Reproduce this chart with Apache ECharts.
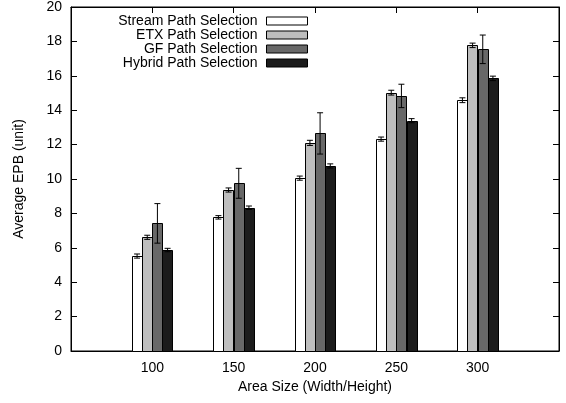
<!DOCTYPE html>
<html>
<head>
<meta charset="utf-8">
<script src="https://cdn.jsdelivr.net/npm/echarts@6/dist/echarts.min.js"></script>
<style>
  html, body { margin: 0; padding: 0; background: #fff; }
  #chart { width: 566px; height: 403px; }
</style>
</head>
<body>
<div id="chart"></div>
<script>
// Area sizes on the x axis
const categories = ['100', '150', '200', '250', '300'];
const seriesNames = ['Stream Path Selection', 'ETX Path Selection', 'GF Path Selection', 'Hybrid Path Selection'];

// Average EPB per method, with the half-length of each error bar
const streamEPB = [5.52, 7.77, 10.05, 12.32, 14.58];
const streamErr = [0.12, 0.10, 0.12, 0.12, 0.14];
const etxEPB    = [6.61, 9.36, 12.10, 15.02, 17.77];
const etxErr    = [0.12, 0.12, 0.15, 0.14, 0.13];
const gfEPB     = [7.42, 9.75, 12.65, 14.83, 17.54];
const gfErr     = [1.15, 0.87, 1.20, 0.68, 0.83];
const hybridEPB = [5.87, 8.33, 10.76, 13.39, 15.85];
const hybridErr = [0.10, 0.10, 0.12, 0.12, 0.13];

const yTicks = [0, 2, 4, 6, 8, 10, 12, 14, 16, 18, 20];

const values = [streamEPB, etxEPB, gfEPB, hybridEPB];
const errors = [streamErr, etxErr, gfErr, hybridErr];
const fills = ['#ffffff', '#bebebe', '#686868', '#1c1c1c'];

const BAR_W = 0.125;       // bar width in category units
const FONT = 'Liberation Sans, Arial, Helvetica, sans-serif';
const FS = 14;

const chart = echarts.init(document.getElementById('chart'), null, { renderer: 'canvas' });

function makeSeries(k) {
  const data = values[k].map((v, i) => [i, v, errors[k][i]]);
  return {
    name: seriesNames[k],
    type: 'custom',
    itemStyle: { color: fills[k], borderColor: '#000', borderWidth: 1 },
    encode: { x: 0, y: 1 },
    data: data,
    renderItem: function (params, api) {
      const c = api.value(0);
      const v = api.value(1);
      const e = api.value(2);
      const center = c + (k - 1.5) * BAR_W;
      const tl = api.coord([center - BAR_W / 2, v]);
      const br = api.coord([center + BAR_W / 2, 0]);
      const top = api.coord([center, v + e]);
      const bot = api.coord([center, v - e]);
      const cap = 3;
      const lineStyle = { stroke: '#000', lineWidth: 1 };
      return {
        type: 'group',
        children: [
          {
            type: 'rect',
            shape: { x: Math.round(tl[0]) + 0.5, y: Math.round(tl[1]) + 0.5,
                     width: Math.round(br[0] - tl[0]), height: Math.round(br[1] - tl[1]) },
            style: { fill: fills[k], stroke: '#000', lineWidth: 1 }
          },
          { type: 'line', shape: { x1: top[0], y1: top[1], x2: bot[0], y2: bot[1] }, style: lineStyle },
          { type: 'line', shape: { x1: top[0] - cap, y1: top[1], x2: top[0] + cap, y2: top[1] }, style: lineStyle },
          { type: 'line', shape: { x1: bot[0] - cap, y1: bot[1], x2: bot[0] + cap, y2: bot[1] }, style: lineStyle }
        ]
      };
    }
  };
}

const tickStyle = { show: true, inside: true, length: 6, lineStyle: { color: '#000', width: 1 } };
const lineStyle = { show: true, onZero: false, lineStyle: { color: '#000', width: 1 } };

const option = {
  animation: false,
  backgroundColor: '#fff',
  textStyle: { fontFamily: FONT },
  grid: {
    left: 71, right: 7, top: 7, bottom: 52,
    show: true, borderColor: '#000', borderWidth: 1, backgroundColor: 'transparent'
  },
  legend: {
    orient: 'vertical',
    align: 'right',
    right: 258,
    top: 14,
    padding: 0,
    itemWidth: 41,
    itemHeight: 8,
    itemGap: 0,
    selectedMode: false,
    textStyle: { fontFamily: FONT, fontSize: FS, lineHeight: 12, color: '#000', width: 160, align: 'right', padding: [0, 4, 0, 0] },
    data: seriesNames.map((n, k) => ({
      name: n, icon: 'rect',
      itemStyle: { color: fills[k], borderColor: '#000', borderWidth: 1 }
    }))
  },
  xAxis: [
    {
      type: 'value', min: -1, max: 5, interval: 1,
      position: 'bottom',
      name: 'Area Size (Width/Height)',
      nameLocation: 'middle',
      nameGap: 29,
      nameTextStyle: { fontFamily: FONT, fontSize: FS, color: '#000' },
      axisLine: lineStyle,
      axisTick: tickStyle,
      splitLine: { show: false },
      axisLabel: {
        fontFamily: FONT, fontSize: FS, color: '#000', margin: 10,
        formatter: v => (v >= 0 && v < categories.length) ? categories[v] : ''
      }
    },
    {
      type: 'value', min: -1, max: 5, interval: 1,
      position: 'top',
      axisLine: lineStyle,
      axisTick: tickStyle,
      splitLine: { show: false },
      axisLabel: { show: false }
    }
  ],
  yAxis: [
    {
      type: 'value', min: yTicks[0], max: yTicks[yTicks.length - 1], interval: 2,
      position: 'left',
      name: 'Average EPB (unit)',
      nameLocation: 'middle',
      nameGap: 45,
      nameRotate: 90,
      nameTextStyle: { fontFamily: FONT, fontSize: FS, color: '#000' },
      axisLine: lineStyle,
      axisTick: tickStyle,
      splitLine: { show: false },
      axisLabel: { fontFamily: FONT, fontSize: FS, color: '#000', margin: 9 }
    },
    {
      type: 'value', min: yTicks[0], max: yTicks[yTicks.length - 1], interval: 2,
      position: 'right',
      axisLine: lineStyle,
      axisTick: tickStyle,
      splitLine: { show: false },
      axisLabel: { show: false }
    }
  ],
  series: [0, 1, 2, 3].map(makeSeries)
};

chart.setOption(option);
</script>
</body>
</html>
